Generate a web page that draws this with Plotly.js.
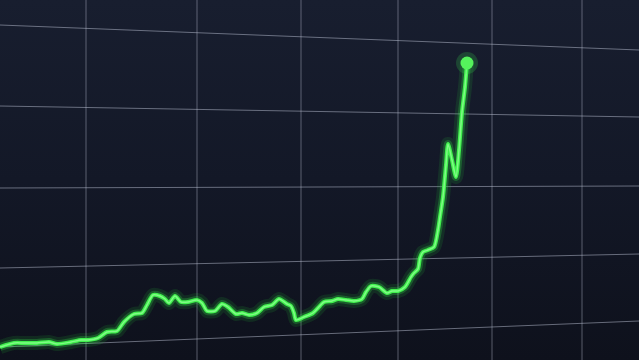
<!DOCTYPE html>
<html>
<head>
<meta charset="utf-8">
<script src="https://cdn.plot.ly/plotly-3.0.1.min.js"></script>
<style>
html,body{margin:0;padding:0;width:639px;height:360px;overflow:hidden;
background:linear-gradient(180deg,#181e2f 0%,#131827 50%,#0e111c 100%);}
#chart{width:639px;height:360px;}
</style>
</head>
<body>
<div id="chart"></div>
<script>
// Time index (horizontal position) and value
var timeIdx = [0,14,24,37,49,57,71,81,88,98,107,117,124,134,142,147,153,160,165,169,175,181,188,197,202,207,215,222,228,236,242,249,257,264,272,279,287,291,294,296,304,313,318,324,332,338,346,354,362,366,371,379,387,392,398,405,411,414,418,420,423,428,434,438,440,443,446,448,452,456,459,462,465,467];
var values  = [13,17,17,17,18,16,18,20,20,22,28,29,38,46,47,55,65,64,61,57,64,58,58,60,57,49,49,56,53,46,47,45,47,53,55,61,56,54,47,40,43,47,52,58,59,61,60,59,61,68,74,73,67,69,69,73,83,87,91,102,108,110,113,130,143,163,195,216,200,183,210,248,273,297];

// Perspective grid (decorative): horizontal lines [y at left, y at right], vertical x positions
var hLeft  = [335,254,172,92,13];
var hRight = [310,243,174,106,39];
var vLines = [86,197,301,398,492,582];

var shapes = [];
for (var i=0;i<hLeft.length;i++){
  shapes.push({type:'line',xref:'x',yref:'y',x0:0,x1:639,y0:hLeft[i],y1:hRight[i],
    line:{color:'rgba(190,196,214,0.5)',width:1},layer:'below'});
}
for (var j=0;j<vLines.length;j++){
  shapes.push({type:'line',xref:'x',yref:'y',x0:vLines[j],x1:vLines[j],y0:0,y1:360,
    line:{color:'rgba(190,196,214,0.42)',width:1},layer:'below'});
}

var lastX = [timeIdx[timeIdx.length-1]];
var lastY = [values[values.length-1]];

var traces = [
  {x:timeIdx,y:values,mode:'lines',line:{color:'rgba(40,220,60,0.12)',width:14,shape:'spline',smoothing:0.7},hoverinfo:'skip'},
  {x:timeIdx,y:values,mode:'lines',line:{color:'rgba(50,235,70,0.25)',width:8,shape:'spline',smoothing:0.7},hoverinfo:'skip'},
  {x:timeIdx,y:values,mode:'lines',line:{color:'#3ff04c',width:4,shape:'spline',smoothing:0.7}},
  {x:timeIdx,y:values,mode:'lines',line:{color:'#80fb86',width:1.5,shape:'spline',smoothing:0.7}},
  {x:lastX,y:lastY,mode:'markers',marker:{size:22,color:'rgba(60,235,80,0.2)'},hoverinfo:'skip'},
  {x:lastX,y:lastY,mode:'markers',marker:{size:13,color:'#55f25c'}}
];

var layout = {
  width:639,height:360,
  margin:{l:0,r:0,t:0,b:0},
  paper_bgcolor:'rgba(0,0,0,0)',plot_bgcolor:'rgba(0,0,0,0)',
  showlegend:false,
  xaxis:{range:[0,639],visible:false,fixedrange:true},
  yaxis:{range:[0,360],visible:false,fixedrange:true},
  shapes:shapes
};
Plotly.newPlot('chart',traces,layout,{displayModeBar:false,staticPlot:true});
</script>
</body>
</html>
